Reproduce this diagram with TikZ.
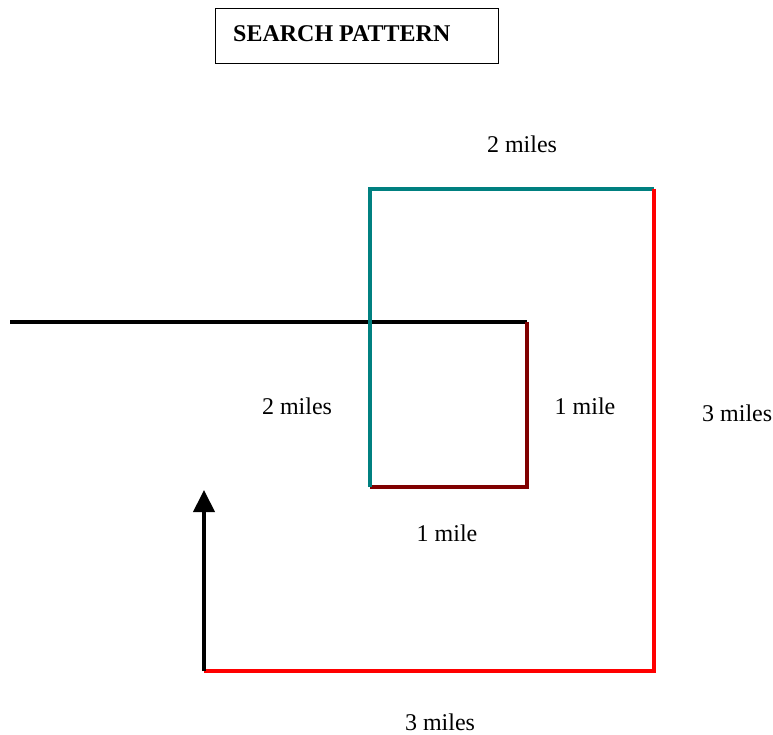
\documentclass[tikz,border=0pt]{standalone}
\usepackage{fontspec}
\setmainfont{Liberation Serif}
\usetikzlibrary{arrows.meta}
\definecolor{tealline}{RGB}{0,128,128}
\definecolor{maroonline}{RGB}{128,0,0}
\definecolor{redline}{RGB}{255,0,0}
\begin{document}
\begin{tikzpicture}[x=1pt,y=-1pt,
  leg/.style={line width=4pt},
  lbl/.style={font=\fontsize{24}{28}\selectfont, inner sep=0pt},
  titlebox/.style={draw, line width=1pt, minimum width=283pt, minimum height=55pt},
  titletext/.style={font=\bfseries\fontsize{24}{28}\selectfont, inner sep=0pt, anchor=west}]
  \useasboundingbox (0,0) rectangle (773,735);
  \clip (0,0) rectangle (773,735);
  \fill[white] (0,0) rectangle (773,735);

  % title
  \node[titlebox] (title) at (356.5,36) {};
  \node[titletext] (titlelabel) at (233,34) {SEARCH PATTERN};

  % turning points of the track
  \coordinate (start) at (10,322);
  \coordinate (p1) at (527,322);
  \coordinate (p2) at (527,487);
  \coordinate (p3) at (370,487);
  \coordinate (p4) at (370,189);
  \coordinate (p5) at (654,189);
  \coordinate (p6) at (654,671);
  \coordinate (p7) at (204,671);
  \coordinate (tip) at (204,490);

  % legs of the search
  \draw[leg, black] (start) -- (p1);
  \draw[leg, maroonline] (p1) -- (p2) -- (p3);
  \draw[leg, tealline] (p3) -- (p4) -- (p5);
  \draw[leg, redline] (p5) -- (p6) -- (p7);
  \draw[leg, black, -{Triangle[width=21pt,length=22pt]}] (p7) -- (tip);

  % distances
  \node[lbl] (d1) at (522,144) {2 miles};
  \node[lbl] (d2) at (297,406) {2 miles};
  \node[lbl] (d3) at (585,406) {1 mile};
  \node[lbl, anchor=west] (d4) at (702,413) {3 miles};
  \node[lbl] (d5) at (447,533) {1 mile};
  \node[lbl] (d6) at (440,722) {3 miles};
\end{tikzpicture}
\end{document}
